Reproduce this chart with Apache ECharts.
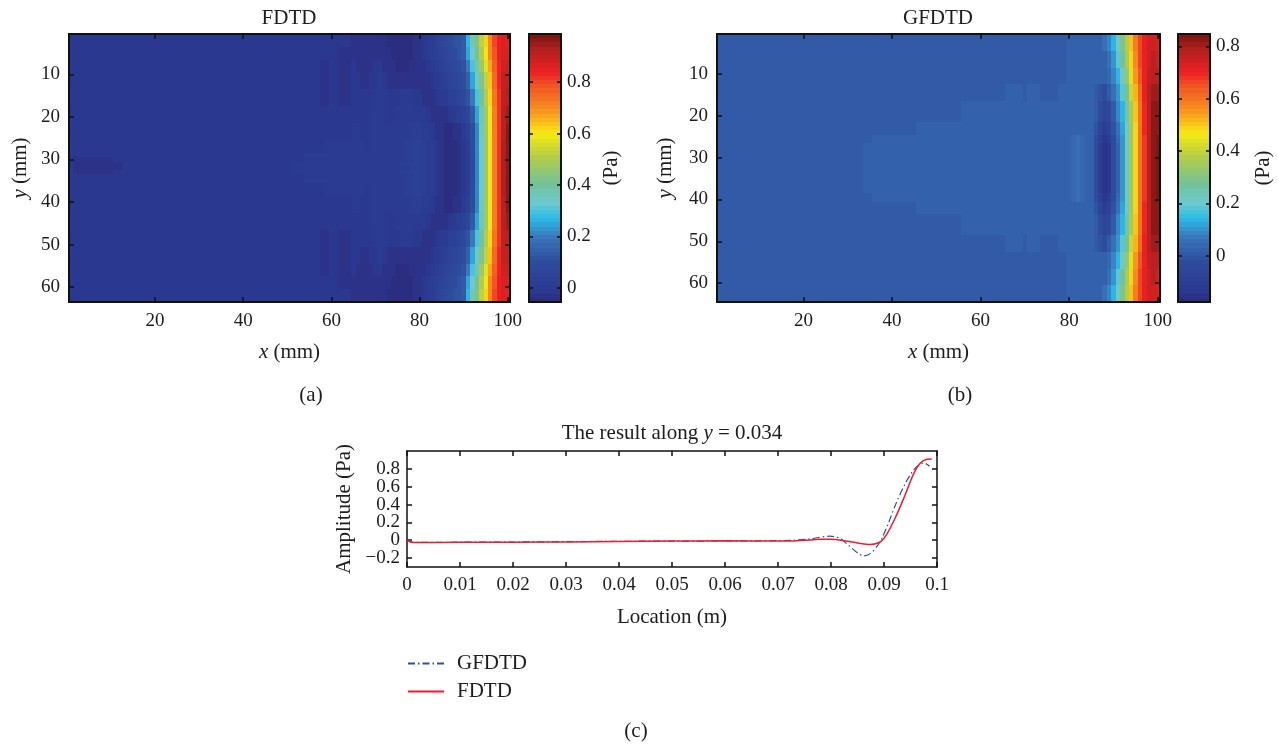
<!DOCTYPE html>
<html><head><meta charset="utf-8">
<script src="https://cdn.jsdelivr.net/npm/echarts@6/dist/echarts.min.js"></script>
<style>html,body{margin:0;padding:0;background:#fff}#c{width:1278px;height:745px}</style></head>
<body><div id="c"></div>
<script>
// Colour map: [fraction of bar, colour]
const COLOR_STOPS = [[0,'#2a2a7c'],[0.039,'#2b3890'],[0.149,'#2e4c9c'],[0.245,'#3a78bc'],[0.312,'#2bbce9'],[0.369,'#6dcad0'],[0.437,'#70c29c'],[0.532,'#aecb4f'],[0.628,'#f5ea14'],[0.676,'#f9b81a'],[0.724,'#f68b1f'],[0.8,'#f15a24'],[0.858,'#ec2024'],[0.945,'#b0201f'],[1,'#72140f']];

// Panel (a) FDTD: values in 0.01 Pa. Each row is columns 51..100 of the field.
const FDTD_PROFILES = [
[-1,-1,-1,-1,-1,-1,-1,-1,-1,-1, -1,-1,-1,-1,-3,-3,-3,-3,-3,-3, -3,-3,-4,-4,-5,-5,-5,-4,-3,-3, -1,1,2,4,6,8,10,11,12,14, 27,36,42,52,62,71,80,85,87,85],
[-1,-1,-1,-1,-1,-1,-1,-1,-1,-1, -1,-3,-3,-3,-3,-3,-3,-3,-3,-3, -3,-3,-3,-4,-5,-5,-5,-4,-3,-3, -1,0,2,3,5,7,9,10,11,13, 25,33,41,50,60,70,79,85,87,86],
[-1,-1,-1,-1,-1,-1,-1,-3,-3,-1, -1,-3,-3,-3,-1,-3,-3,-3,-3,-1, -1,-3,-3,-3,-4,-4,-4,-3,-3,-3, -3,-1,0,2,3,5,7,9,10,12, 20,29,38,47,57,67,77,84,88,88],
[-1,-1,-1,-1,-1,-1,-1,-3,-3,-1, -1,-3,-3,-3,-1,-1,-3,-3,-1,-1, 0,-1,-3,-3,-3,-3,-3,-3,-3,-3, -3,-3,-1,0,2,3,5,7,8,10, 15,25,34,43,53,64,75,83,90,90],
[-1,-1,-1,-1,-1,-1,-1,-3,-3,-1, -1,-3,-3,-3,-1,-1,-1,-1,-1,0, 0,0,-1,-1,-1,0,0,0,-1,-1, -3,-3,-3,-1,0,1,3,4,6,8, 12,19,29,39,50,62,73,82,90,92],
[-1,-1,-1,-1,-1,-1,-1,-1,-1,-1, -1,-1,-1,-1,-1,-1,-1,-1,0,0, 1,0,-1,-1,0,0,1,1,1,0, 0,-1,-3,-3,-3,-3,-1,1,2,4, 7,13,24,36,48,60,72,82,91,95],
[-1,-1,-1,-1,-1,-1,-1,-1,-1,-1, -1,-1,-1,-1,0,0,-1,-1,0,0, 1,0,0,0,0,1,1,2,2,2, 1,0,-1,-3,-3,-4,-4,-3,-3,0, 3,10,22,34,47,60,72,82,92,96],
[-1,-1,-1,-1,-1,-1,-1,-1,0,0, 0,0,0,0,0,0,0,-1,0,0, 1,0,0,0,1,1,2,2,3,3, 2,1,0,-1,-3,-4,-5,-4,-3,-1, 2,10,21,33,47,60,72,82,93,97],
[-1,-1,-1,0,0,0,0,0,0,0, 0,0,0,0,0,1,0,0,0,0, 1,0,0,0,1,1,2,2,3,3, 2,1,0,-1,-3,-4,-5,-5,-3,-1, 2,9,21,33,47,60,72,82,93,97],
[-1,0,0,0,0,0,0,1,1,1, 1,1,1,0,0,1,0,0,0,0, 1,0,0,0,1,2,2,3,3,3, 2,1,0,-1,-3,-4,-5,-5,-3,-1, 2,9,21,33,47,60,72,82,93,97]
];
const FDTD_ROW_GROUP = [0,0,0,1,1,1,2,2,2,3,3,3,3,4,4,4,4,5,5,5,5,6,6,6,6,7,7,7,8,8,9,9];
const FDTD_BACKGROUND = -1;
const FDTD_SMUDGE_ROWS = [30,31,32,33];
const FDTD_SMUDGE = [
[-1,-3,-3,-3,-3,-3,-3,-3,-3,-3,-1,-1],
[-1,-3,-3,-3,-3,-3,-3,-3,-3,-3,-3,-3],
[-1,-3,-3,-3,-3,-3,-3,-3,-3,-3,-3,-3],
[-1,-3,-3,-3,-3,-3,-3,-3,-3,-3,-1,-1]
];

// Panel (b) GFDTD: values in 0.01 Pa. Each row is columns 31..100 of the field.
const GFDTD_PROFILES = [
[0,0,0,0,0,0,0,0,0,0, 0,0,0,0,0,0,0,0,0,0, 0,0,0,0,0,0,0,0,0,0, 0,0,0,0,0,0,0,0,0,0, 0,0,0,0,0,0,0,0,0,2, 2,2,2,2,3,3,3,5,8,14, 22,30,38,50,58,67,71,74,75,72],
[0,0,0,0,0,0,0,0,0,0, 0,0,0,0,0,0,0,0,0,0, 0,0,0,0,0,0,0,0,0,0, 0,0,0,0,0,0,0,0,0,0, 0,0,0,0,0,0,0,0,0,2, 2,2,2,2,2,2,2,3,5,10, 18,27,36,48,56,66,71,75,77,74],
[0,0,0,0,0,0,0,0,0,0, 0,0,0,0,0,0,0,0,0,0, 0,0,0,0,0,0,0,0,0,0, 0,0,0,0,0,0,0,0,0,0, 0,0,0,0,0,0,0,0,0,2, 2,2,2,2,2,2,2,2,4,8, 14,22,32,44,55,64,71,76,78,77],
[0,0,0,0,0,0,0,0,0,0, 0,0,0,0,0,0,0,0,0,0, 0,0,0,0,0,0,0,0,0,0, 0,0,0,0,0,2,2,2,2,0, 2,2,2,0,0,0,0,2,2,2, 2,2,2,2,2,0,-1,-2,1,5, 11,18,28,40,52,62,71,77,80,80],
[0,0,0,0,0,0,0,0,0,0, 0,0,0,0,0,0,0,0,0,0, 0,0,0,0,0,2,2,2,2,2, 2,2,2,2,2,2,2,2,2,2, 2,2,2,2,2,2,2,2,2,2, 3,3,3,2,2,0,-3,-6,-4,1, 8,13,24,36,50,60,70,78,82,82],
[0,0,0,0,0,0,0,0,0,0, 0,0,0,0,0,2,2,2,2,2, 2,2,2,2,2,2,2,2,2,2, 2,2,2,2,2,2,2,2,2,2, 2,2,2,2,2,2,2,2,2,2, 3,3,3,2,2,-1,-6,-10,-8,-1, 5,12,22,34,49,60,69,77,82,83],
[0,0,0,0,0,2,2,2,2,2, 2,2,2,2,2,2,2,2,2,2, 2,2,2,2,2,2,2,2,2,2, 2,2,2,2,2,2,2,2,2,2, 2,2,2,2,2,2,2,2,3,3, 4,5,4,3,2,-2,-9,-14,-11,-2, 4,11,22,34,49,60,68,77,83,84],
[0,0,0,2,2,2,2,2,2,2, 2,2,2,2,2,2,2,2,2,2, 2,2,2,2,2,2,2,2,2,2, 2,2,2,2,2,2,2,2,2,2, 2,2,2,2,2,2,2,2,3,3, 4,5,4,3,2,-3,-10,-16,-13,-3, 3,10,22,34,49,60,68,77,83,84]
];
const GFDTD_ROW_GROUP = [0,0,0,0,1,1,1,1,2,2,2,2,3,3,3,3,4,4,4,4,4,5,5,5,6,6,7,7,7,7,7,7];
const GFDTD_BACKGROUND = 0;

// Panel (c) line values
const FDTD_LINE_X = [0,0.0005,0.001,0.002,0.01,0.02,0.03,0.04,0.05,0.06,0.07,0.072,0.075,0.078,0.08,0.083,0.085,0.0874,0.0893,0.0906,0.0922,0.0937,0.0956,0.0968,0.0981,0.099];
const FDTD_LINE_Y = [0,-0.015,-0.025,-0.026,-0.024,-0.022,-0.02,-0.015,-0.01,-0.007,-0.01,-0.009,0,0.01,0.011,-0.011,-0.03,-0.048,-0.019,0.075,0.26,0.466,0.746,0.86,0.907,0.91];
const GFDTD_LINE_X = [0,0.001,0.002,0.01,0.02,0.03,0.04,0.05,0.06,0.07,0.073,0.076,0.0798,0.0817,0.0833,0.0852,0.0862,0.0874,0.0887,0.0896,0.0908,0.0924,0.094,0.0953,0.0965,0.0975,0.0986];
const GFDTD_LINE_Y = [-0.005,-0.022,-0.024,-0.022,-0.02,-0.016,-0.012,-0.01,-0.008,-0.004,0,0.015,0.045,0.02,-0.056,-0.15,-0.175,-0.15,-0.067,0.02,0.187,0.43,0.634,0.765,0.84,0.866,0.83];

// Tick labels
const HEAT_X_TICKS = [20,40,60,80,100];
const HEAT_Y_TICKS = [10,20,30,40,50,60];
const BAR_TICKS = [0,0.2,0.4,0.6,0.8];
const LINE_Y_TICKS = [-0.2,0,0.2,0.4,0.6,0.8];
const LINE_Y_LABELS_A = [-0.2,0.2,0.6];
const LINE_Y_LABELS_B = [0,0.4,0.8];
const FDTD_RANGE = [-0.055,0.9875];
const GFDTD_RANGE = [-0.176,0.847];

const FONT = '"Liberation Serif", serif';
const INK = '#1d1d1b';
const FS = 19, NS = 21;

function hex(c){return [1,3,5].map(i=>parseInt(c.substr(i,2),16));}
function colorAt(f){
  for(let i=1;i<COLOR_STOPS.length;i++){
    if(f<=COLOR_STOPS[i][0]){
      const a=COLOR_STOPS[i-1],b=COLOR_STOPS[i],t=(f-a[0])/(b[0]-a[0]);
      const A=hex(a[1]),B=hex(b[1]);
      return 'rgb('+A.map((v,k)=>Math.round(v+(B[k]-v)*t)).join(',')+')';
    }
  }
  return COLOR_STOPS[COLOR_STOPS.length-1][1];
}
const LEVELS=64;
const LEVEL_COLORS=Array.from({length:LEVELS},(_,i)=>colorAt((i+0.5)/LEVELS));
function levelColor(v,range){
  const i=Math.floor((v-range[0])/(range[1]-range[0])*LEVELS);
  return LEVEL_COLORS[Math.max(0,Math.min(LEVELS-1,i))];
}
function field(rows,mirrorSum,groups,profiles,firstCol,bg){
  const out=[];
  for(let r=1;r<=rows;r++){
    const half=r<=groups.length?r:mirrorSum-r;
    const p=profiles[groups[half-1]];
    for(let c=1;c<=100;c++){
      const v=c>=firstCol?p[c-firstCol]:bg;
      out.push([c-1,r-1,v/100]);
    }
  }
  return out;
}
const fdtdField=field(63,64,FDTD_ROW_GROUP,FDTD_PROFILES,51,FDTD_BACKGROUND);
FDTD_SMUDGE_ROWS.forEach((r,i)=>FDTD_SMUDGE[i].forEach((v,j)=>{fdtdField[(r-1)*100+j][2]=v/100;}));
const gfdtdField=field(64,65,GFDTD_ROW_GROUP,GFDTD_PROFILES,31,GFDTD_BACKGROUND);

const grid=[],xAxis=[],yAxis=[],series=[],title=[];
const axisLine={show:true,onZero:false,lineStyle:{color:'#111',width:2}};
const tick=(len,extra)=>Object.assign({show:true,inside:true,length:len,lineStyle:{color:'#111',width:1.5}},extra||{});
const labelStyle={color:INK,fontFamily:FONT,fontSize:FS};
const nameStyle={color:INK,fontFamily:FONT,fontSize:NS};
const nameRich={i:{fontStyle:'italic',fontFamily:FONT,fontSize:NS,color:INK}};

function cellSeries(xi,yi,data,range){
  return {type:'custom',xAxisIndex:xi,yAxisIndex:yi,data,encode:{x:0,y:1},clip:false,silent:true,animation:false,z:2,
    progressive:0,large:false,
    renderItem(params,api){
      const p=api.coord([api.value(0),api.value(1)]);
      const s=api.size([1,1]);
      const x0=Math.round(p[0]-s[0]/2),x1=Math.round(p[0]+s[0]/2);
      const y0=Math.round(p[1]-s[1]/2),y1=Math.round(p[1]+s[1]/2);
      return {type:'rect',shape:{x:x0,y:y0,width:x1-x0,height:y1-y0},style:{fill:levelColor(api.value(2),range)}};
    }};
}

function heatPanel(cfg){
  const g=grid.length;
  grid.push({left:cfg.left,top:34,width:cfg.width,height:268});
  const cols=Array.from({length:100},(_,i)=>i+1), rows=Array.from({length:cfg.rows},(_,i)=>i+1);
  const xTickFn=(i,v)=>HEAT_X_TICKS.includes(+v);
  const yTickFn=(i,v)=>HEAT_Y_TICKS.includes(+v);
  const x0=xAxis.length; const y0=yAxis.length;
  xAxis.push({type:'category',gridIndex:g,data:cols,position:'bottom',z:5,axisLine,
    axisTick:tick(5,{alignWithLabel:true,interval:xTickFn}),
    axisLabel:Object.assign({},labelStyle,{interval:xTickFn,margin:10}),splitLine:{show:false},
    name:'{i|x} (mm)',nameLocation:'middle',nameGap:40,nameTextStyle:Object.assign({},nameStyle,{rich:nameRich})});
  xAxis.push({type:'category',gridIndex:g,data:cols,position:'top',z:5,axisLine,
    axisTick:tick(5,{alignWithLabel:true,interval:xTickFn}),axisLabel:{show:false},splitLine:{show:false}});
  yAxis.push({type:'category',gridIndex:g,data:rows,inverse:true,position:'left',z:5,axisLine,
    axisTick:tick(5,{alignWithLabel:true,interval:yTickFn}),
    axisLabel:Object.assign({},labelStyle,{interval:yTickFn,margin:9}),splitLine:{show:false},
    name:'{i|y} (mm)',nameLocation:'middle',nameGap:cfg.yGap,nameRotate:90,nameTextStyle:Object.assign({},nameStyle,{rich:nameRich})});
  yAxis.push({type:'category',gridIndex:g,data:rows,inverse:true,position:'right',z:5,axisLine,
    axisTick:tick(5,{alignWithLabel:true,interval:yTickFn}),axisLabel:{show:false},splitLine:{show:false}});
  series.push(cellSeries(x0,y0,cfg.data,cfg.range));

  // colour bar
  const b=grid.length;
  grid.push({left:cfg.barLeft,top:34,width:32,height:268});
  const bx=xAxis.length,by=yAxis.length;
  xAxis.push({type:'category',gridIndex:b,data:['c'],position:'bottom',z:5,axisLine,axisTick:{show:false},axisLabel:{show:false},splitLine:{show:false}});
  xAxis.push({type:'category',gridIndex:b,data:['c'],position:'top',z:5,axisLine,axisTick:{show:false},axisLabel:{show:false},splitLine:{show:false}});
  const lv=Array.from({length:LEVELS},(_,i)=>i);
  yAxis.push({type:'category',gridIndex:b,data:lv,show:false});
  const valAxis=(pos,labels)=>({type:'value',gridIndex:b,min:cfg.range[0],max:cfg.range[1],position:pos,z:5,
    axisLine,splitLine:{show:false},
    axisTick:tick(4,{customValues:BAR_TICKS}),
    axisLabel:labels?Object.assign({},labelStyle,{customValues:BAR_TICKS,margin:6,formatter:v=>String(+v.toFixed(1))}):{show:false}});
  yAxis.push(Object.assign(valAxis('right',true),{name:'(Pa)',nameLocation:'middle',nameRotate:90,nameGap:cfg.paGap,nameTextStyle:nameStyle}));
  yAxis.push(valAxis('left',false));
  const w=(cfg.range[1]-cfg.range[0])/LEVELS;
  series.push(cellSeries(bx,by,lv.map(i=>[0,i,cfg.range[0]+(i+0.5)*w]),cfg.range));
}
heatPanel({left:69,width:441,rows:63,barLeft:529,data:fdtdField,range:FDTD_RANGE,yGap:38,paGap:40});
heatPanel({left:717,width:443,rows:64,barLeft:1178,data:gfdtdField,range:GFDTD_RANGE,yGap:41,paGap:43});

// line panel
const L=grid.length;
grid.push({left:407,top:451,width:530,height:116});
const lx=xAxis.length,ly=yAxis.length;
const thin={show:true,onZero:false,lineStyle:{color:'#111',width:1.5}};
const xfmt=v=>v===0?'0':String(+v.toFixed(2));
const yfmt=v=>(v<0?'\u2212':'')+String(Math.abs(+v.toFixed(1)));
xAxis.push({type:'value',gridIndex:L,min:0,max:0.1,interval:0.01,position:'bottom',axisLine:thin,splitLine:{show:false},
  axisTick:tick(5),axisLabel:Object.assign({},labelStyle,{margin:9,formatter:xfmt,showMinLabel:true,showMaxLabel:true}),
  name:'Location (m)',nameLocation:'middle',nameGap:40,nameTextStyle:nameStyle});
xAxis.push({type:'value',gridIndex:L,min:0,max:0.1,interval:0.01,position:'top',axisLine:thin,splitLine:{show:false},axisTick:tick(5),axisLabel:{show:false}});
yAxis.push({type:'value',gridIndex:L,min:-0.3,max:1,position:'left',axisLine:thin,splitLine:{show:false},
  axisTick:tick(5,{customValues:LINE_Y_TICKS}),
  axisLabel:Object.assign({},labelStyle,{customValues:LINE_Y_LABELS_A,margin:7,formatter:yfmt}),
  name:'Amplitude (Pa)',nameLocation:'middle',nameRotate:90,nameGap:52,nameTextStyle:nameStyle});
yAxis.push({type:'value',gridIndex:L,min:-0.3,max:1,position:'right',axisLine:thin,splitLine:{show:false},axisTick:tick(5,{customValues:LINE_Y_TICKS}),axisLabel:{show:false}});
yAxis.push({type:'value',gridIndex:L,min:-0.3,max:1,position:'left',offset:0,axisLine:{show:false,onZero:false},splitLine:{show:false},axisTick:{show:false},
  axisLabel:Object.assign({},labelStyle,{customValues:LINE_Y_LABELS_B,margin:7,formatter:yfmt})});
series.push({name:'GFDTD',type:'line',xAxisIndex:lx,yAxisIndex:ly,symbol:'none',smooth:0.3,animation:false,silent:true,
  lineStyle:{color:'#2f4fa3',width:1.2,type:[7,3,1.5,3]},itemStyle:{color:'#2f4fa3'},data:GFDTD_LINE_X.map((x,i)=>[x,GFDTD_LINE_Y[i]])});
series.push({name:'FDTD',type:'line',xAxisIndex:lx,yAxisIndex:ly,symbol:'none',smooth:0.3,animation:false,silent:true,
  lineStyle:{color:'#ee1c2e',width:1.5},itemStyle:{color:'#ee1c2e'},data:FDTD_LINE_X.map((x,i)=>[x,FDTD_LINE_Y[i]])});

const txt=(t,x,y,rich)=>({text:t,left:x,top:y,textAlign:'center',padding:0,textStyle:Object.assign({},nameStyle,{fontWeight:'normal',lineHeight:22,rich:rich||{}})});
title.push(txt('FDTD',289,7),txt('GFDTD',938,7),txt('(a)',311,384),txt('(b)',960,384),txt('(c)',636,720));
title.push(txt('The result along {i|y} = 0.034',672,422,nameRich));

const chart=echarts.init(document.getElementById('c'),null,{renderer:'canvas'});
chart.setOption({
  animation:false,backgroundColor:'#fff',title,grid,xAxis,yAxis,series,
  legend:{data:['GFDTD','FDTD'],left:407,top:653,padding:0,orient:'vertical',itemWidth:36,itemHeight:14,itemGap:7,
    itemStyle:{opacity:0,borderWidth:0},
    textStyle:Object.assign({},nameStyle,{padding:[0,0,0,8]}),selectedMode:false}
});
</script></body></html>
